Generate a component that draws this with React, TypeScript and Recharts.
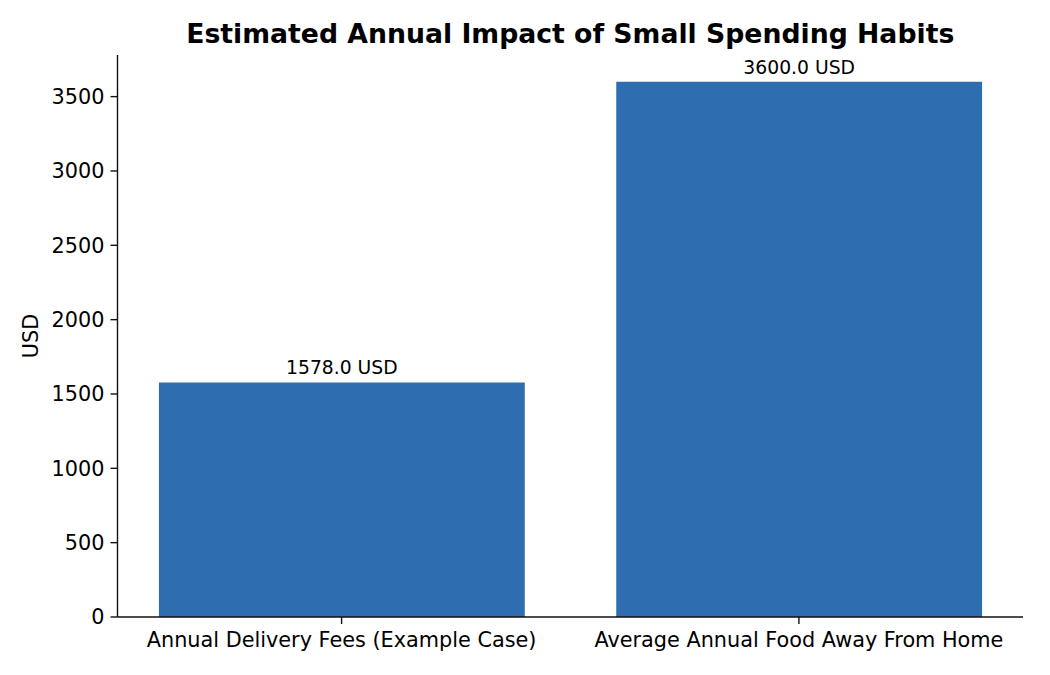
import React from 'react';
import { BarChart, Bar, XAxis, YAxis, LabelList } from 'recharts';

const categories = ['Annual Delivery Fees (Example Case)', 'Average Annual Food Away From Home'];
const values = [1578, 3600];
const yTicks = [0, 500, 1000, 1500, 2000, 2500, 3000, 3500];
const positions = [0, 1];

const title = 'Estimated Annual Impact of Small Spending Habits';
const yLabel = 'USD';
const unit = 'USD';

const W = 1050;
const H = 675;
const LEFT = 117.5;
const RIGHT_M = 27;
const TOP = 55;
const BOTTOM_M = 58;
const X_DOMAIN: [number, number] = [-0.49, 1.49];
const BAR_WIDTH_UNITS = 0.8;
const FONT = '"DejaVu Sans", sans-serif';
const BAR_COLOR = '#2e6db0';
const AXIS_COLOR = '#111';

const data = categories.map((name, i) => ({ x: positions[i], name, value: values[i] }));

const plotWidth = W - LEFT - RIGHT_M;
const barSize = (plotWidth / (X_DOMAIN[1] - X_DOMAIN[0])) * BAR_WIDTH_UNITS;

const YLabel = (props: any) => {
  const vb = props.viewBox || { x: 0, y: 0, width: 0, height: 0 };
  const cx = vb.x + 31;
  const cy = vb.y + vb.height / 2;
  return (
    <text
      x={cx}
      y={cy}
      transform={`rotate(-90 ${cx} ${cy})`}
      textAnchor="middle"
      dominantBaseline="central"
      fontFamily={FONT}
      fontSize={20.8}
      fill="#000"
    >
      {yLabel}
    </text>
  );
};

export default function App() {
  return (
    <div style={{ position: 'absolute', left: 0, top: 0, width: W, height: H, background: '#fff' }}>
      <BarChart
        width={W}
        height={H}
        data={data}
        margin={{ top: TOP, right: RIGHT_M, bottom: 0, left: 0 }}
      >
        <XAxis
          dataKey="x"
          type="number"
          domain={X_DOMAIN}
          ticks={positions}
          allowDataOverflow
          tickFormatter={(v: number) => categories[v] ?? ''}
          tickSize={7}
          tickMargin={8.5}
          height={BOTTOM_M}
          stroke={AXIS_COLOR}
          strokeWidth={1.4}
          tick={{ fill: '#000', fontSize: 20.8, fontFamily: FONT }}
          interval={0}
        />
        <YAxis
          type="number"
          domain={[0, 3780]}
          ticks={yTicks}
          allowDataOverflow
          width={LEFT}
          tickSize={7}
          tickMargin={6}
          stroke={AXIS_COLOR}
          strokeWidth={1.4}
          tick={{ fill: '#000', fontSize: 20.8, fontFamily: FONT }}
          label={<YLabel />}
        />
        <Bar dataKey="value" fill={BAR_COLOR} barSize={barSize} isAnimationActive={false}>
          <LabelList
            dataKey="value"
            position="top"
            offset={8}
            formatter={(v: any) => `${Number(v).toFixed(1)} ${unit}`}
            style={{ fill: '#000', fontSize: 18.75, fontFamily: FONT }}
          />
        </Bar>
      </BarChart>
      <svg
        width={W}
        height={H}
        style={{ position: 'absolute', left: 0, top: 0, pointerEvents: 'none' }}
      >
        <text
          x={LEFT + plotWidth / 2}
          y={43.3}
          textAnchor="middle"
          fontFamily={FONT}
          fontWeight="bold"
          fontSize={26.7}
          fill="#000"
        >
          {title}
        </text>
      </svg>
    </div>
  );
}
